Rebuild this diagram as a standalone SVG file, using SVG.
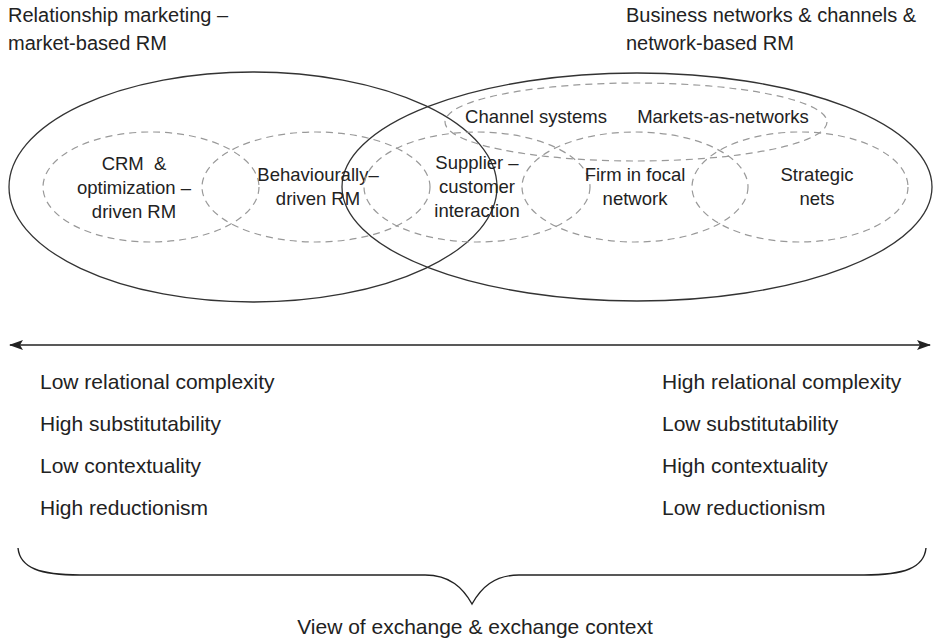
<svg xmlns="http://www.w3.org/2000/svg" width="940" height="638" viewBox="0 0 940 638">
<defs>
<style>
text{font-family:"Liberation Sans",Arial,sans-serif;fill:#222;}
.hd{font-size:20px;}
.nd{font-size:18.5px;text-anchor:middle;white-space:pre;}
.bt{font-size:21px;}
.big{fill:none;stroke:#333;stroke-width:1.3;}
.dash{fill:none;stroke:#999;stroke-width:1.2;stroke-dasharray:7 5;}
.line{fill:none;stroke:#222;stroke-width:1.4;}
</style>
<marker id="ah" viewBox="0 0 14 10" refX="13" refY="5" markerWidth="14" markerHeight="10" markerUnits="userSpaceOnUse" orient="auto-start-reverse">
<path d="M0,0 L14,5 L0,10 L3,5 Z" fill="#222"/>
</marker>
</defs>
<rect width="940" height="638" fill="#fff"/>

<g id="rm-market">
<ellipse class="big" cx="253" cy="187" rx="244" ry="115"/>
<text class="hd" x="8" y="22">Relationship marketing –</text>
<text class="hd" x="8" y="50">market-based RM</text>
</g>
<g id="rm-network">
<ellipse class="big" cx="637" cy="187" rx="295" ry="114"/>
<text class="hd" x="626" y="22">Business networks &amp; channels &amp;</text>
<text class="hd" x="626" y="50">network-based RM</text>
</g>

<g id="crm">
<ellipse class="dash" cx="151" cy="187" rx="108" ry="55"/>
<text class="nd" x="134" y="170">CRM  &amp;</text>
<text class="nd" x="134" y="194">optimization –</text>
<text class="nd" x="134" y="218">driven RM</text>
</g>
<g id="behavioural">
<ellipse class="dash" cx="316" cy="187" rx="114" ry="55"/>
<text class="nd" x="318" y="181">Behaviourally–</text>
<text class="nd" x="318" y="205">driven RM</text>
</g>
<g id="supplier">
<ellipse class="dash" cx="477" cy="187" rx="113" ry="55"/>
<text class="nd" x="477" y="169">Supplier –</text>
<text class="nd" x="477" y="193">customer</text>
<text class="nd" x="477" y="217">interaction</text>
</g>
<g id="channel">
<ellipse class="dash" cx="636" cy="122" rx="191" ry="39"/>
<text class="nd" x="536" y="123">Channel systems</text>
<text class="nd" x="723" y="123">Markets-as-networks</text>
</g>
<g id="firm">
<ellipse class="dash" cx="635" cy="187" rx="113" ry="55"/>
<text class="nd" x="635" y="181">Firm in focal</text>
<text class="nd" x="635" y="205">network</text>
</g>
<g id="strategic">
<ellipse class="dash" cx="800" cy="187" rx="108" ry="55"/>
<text class="nd" x="817" y="181">Strategic</text>
<text class="nd" x="817" y="205">nets</text>
</g>

<g id="connectors">
<line class="line" x1="10" y1="345" x2="930" y2="345" marker-start="url(#ah)" marker-end="url(#ah)"/>
<path class="line" d="M18,548 C20,568 40,575 80,575 L425,575 C450,575 463,588 472,604 C481,588 494,575 519,575 L864,575 C904,575 924,568 926,548"/>
</g>

<g id="left-props">
<text class="bt" x="40" y="389">Low relational complexity</text>
<text class="bt" x="40" y="431">High substitutability</text>
<text class="bt" x="40" y="473">Low contextuality</text>
<text class="bt" x="40" y="515">High reductionism</text>
</g>
<g id="right-props">
<text class="bt" x="662" y="389">High relational complexity</text>
<text class="bt" x="662" y="431">Low substitutability</text>
<text class="bt" x="662" y="473">High contextuality</text>
<text class="bt" x="662" y="515">Low reductionism</text>
</g>
<g id="caption">
<text class="bt" x="475" y="634" text-anchor="middle">View of exchange &amp; exchange context</text>
</g>
</svg>
